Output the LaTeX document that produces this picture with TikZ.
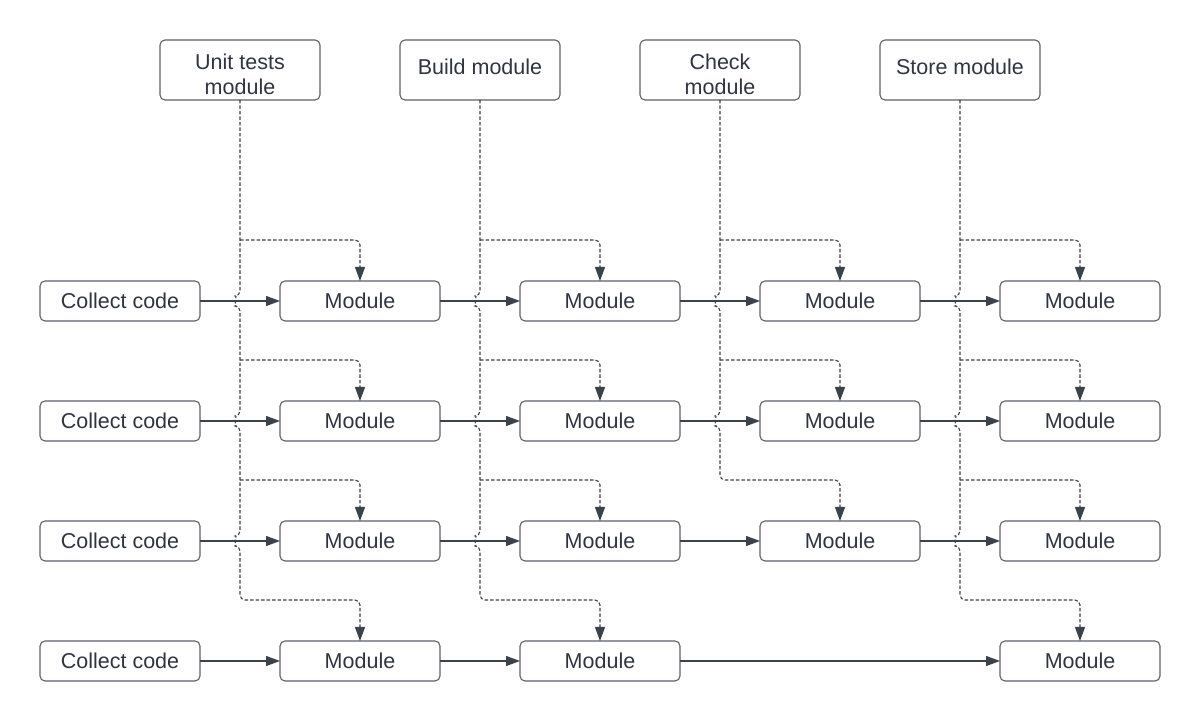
\documentclass[tikz,border=0pt]{standalone}
\usepackage{fontspec}
\setmainfont{Liberation Sans}
\usetikzlibrary{positioning,arrows.meta}

\definecolor{lineclr}{HTML}{3B424B}
\definecolor{boxclr}{HTML}{5A6068}
\definecolor{textclr}{HTML}{2E3440}

\tikzset{
  box/.style={draw=boxclr, line width=1.1pt, rounded corners=5pt, minimum width=160pt,
    minimum height=40pt, inner sep=0pt, outer sep=0pt, text=textclr,
    font=\fontsize{21.5}{25}\selectfont},
  topbox/.style={box, minimum height=60pt, align=center},
  flow/.style={draw=lineclr, line width=1.1pt, -{Triangle[length=14pt,width=10pt]}},
  feed/.style={draw=lineclr, line width=1.1pt, dash pattern=on 3.5pt off 2pt, rounded corners=5pt},
  feedarrow/.style={feed, -{Triangle[length=14pt,width=10pt]}}
}

\begin{document}
\begin{tikzpicture}[x=1pt,y=1pt]
    \useasboundingbox (0,0) rectangle (1200,720);
    \node[topbox] (tests) at (240,650) {\rule{0pt}{25pt}Unit tests\\module};
    \node[topbox] (build) at (480,650) {\rule[-6pt]{0pt}{6pt}Build module};
    \node[topbox] (check) at (720,650) {\rule{0pt}{25pt}Check\\module};
    \node[topbox] (store) at (960,650) {\rule[-6pt]{0pt}{6pt}Store module};
    \node[box] (code1) at (120,419) {Collect code};
    \node[box, right=80pt of code1] (test1) {Module};
    \node[box, right=80pt of test1] (build1) {Module};
    \node[box, right=80pt of build1] (check1) {Module};
    \node[box, right=80pt of check1] (store1) {Module};
    \node[box, below=80pt of code1] (code2) {Collect code};
    \node[box, right=80pt of code2] (test2) {Module};
    \node[box, right=80pt of test2] (build2) {Module};
    \node[box, right=80pt of build2] (check2) {Module};
    \node[box, right=80pt of check2] (store2) {Module};
    \node[box, below=80pt of code2] (code3) {Collect code};
    \node[box, right=80pt of code3] (test3) {Module};
    \node[box, right=80pt of test3] (build3) {Module};
    \node[box, right=80pt of build3] (check3) {Module};
    \node[box, right=80pt of check3] (store3) {Module};
    \node[box, below=80pt of code3] (code4) {Collect code};
    \node[box, right=80pt of code4] (test4) {Module};
    \node[box, right=80pt of test4] (build4) {Module};
    \node[box, below=80pt of store3] (store4) {Module};
    \draw[flow] (code1) -- (test1);
    \draw[flow] (test1) -- (build1);
    \draw[flow] (build1) -- (check1);
    \draw[flow] (check1) -- (store1);
    \draw[flow] (code2) -- (test2);
    \draw[flow] (test2) -- (build2);
    \draw[flow] (build2) -- (check2);
    \draw[flow] (check2) -- (store2);
    \draw[flow] (code3) -- (test3);
    \draw[flow] (test3) -- (build3);
    \draw[flow] (build3) -- (check3);
    \draw[flow] (check3) -- (store3);
    \draw[flow] (code4) -- (test4);
    \draw[flow] (test4) -- (build4);
    \draw[flow] (build4) -- (store4);
    \draw[feedarrow] (tests.south) -- (240,424) arc[start angle=90,end angle=270,radius=5]
        -- (240,304) arc[start angle=90,end angle=270,radius=5]
        -- (240,184) arc[start angle=90,end angle=270,radius=5]
        -- (240,120) -| (test4.north);
    \draw[feedarrow] (240,480) -| (test1.north);
    \draw[feedarrow] (240,360) -| (test2.north);
    \draw[feedarrow] (240,240) -| (test3.north);
    \draw[feedarrow] (build.south) -- (480,424) arc[start angle=90,end angle=270,radius=5]
        -- (480,304) arc[start angle=90,end angle=270,radius=5]
        -- (480,184) arc[start angle=90,end angle=270,radius=5]
        -- (480,120) -| (build4.north);
    \draw[feedarrow] (480,480) -| (build1.north);
    \draw[feedarrow] (480,360) -| (build2.north);
    \draw[feedarrow] (480,240) -| (build3.north);
    \draw[feedarrow] (check.south) -- (720,424) arc[start angle=90,end angle=270,radius=5]
        -- (720,304) arc[start angle=90,end angle=270,radius=5]
        -- (720,240) -| (check3.north);
    \draw[feedarrow] (720,480) -| (check1.north);
    \draw[feedarrow] (720,360) -| (check2.north);
    \draw[feedarrow] (store.south) -- (960,424) arc[start angle=90,end angle=270,radius=5]
        -- (960,304) arc[start angle=90,end angle=270,radius=5]
        -- (960,184) arc[start angle=90,end angle=270,radius=5]
        -- (960,120) -| (store4.north);
    \draw[feedarrow] (960,480) -| (store1.north);
    \draw[feedarrow] (960,360) -| (store2.north);
    \draw[feedarrow] (960,240) -| (store3.north);
\end{tikzpicture}
\end{document}
